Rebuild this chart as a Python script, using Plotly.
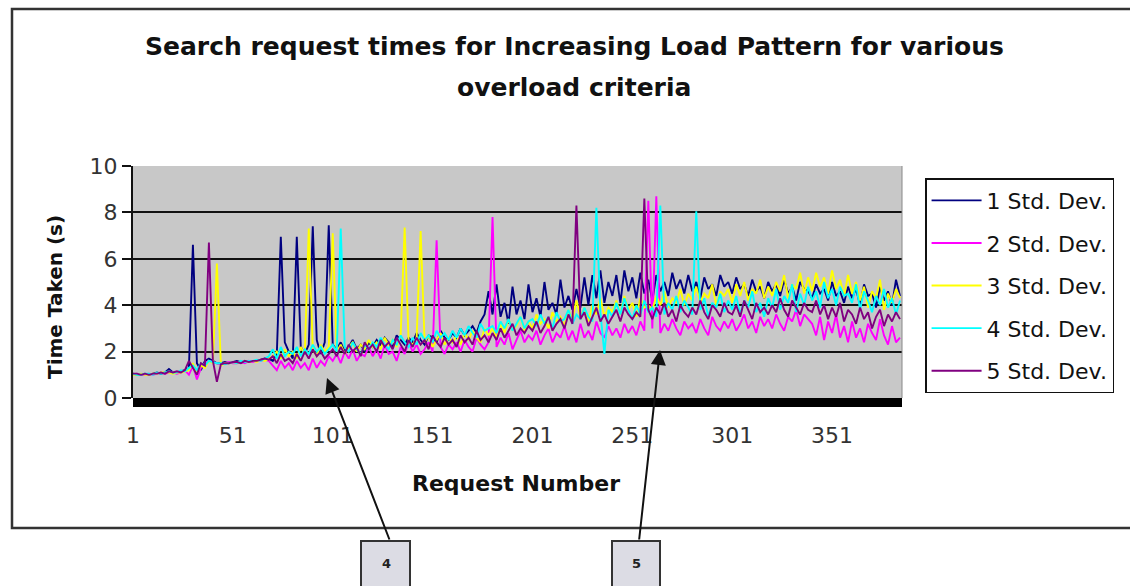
import plotly.graph_objects as go

# Request numbers (every second request is plotted)
requests = list(range(1, 386, 2))

series_names = ["1 Std. Dev.", "2 Std. Dev.", "3 Std. Dev.", "4 Std. Dev.", "5 Std. Dev."]
series_colors = ["#000080", "#FF00FF", "#FFFF00", "#00FFFF", "#800080"]

sd1 = [
    1.05, 1.0, 1.0, 1.05, 1.0, 1.05, 1.1, 1.05, 1.1, 1.25,
    1.1, 1.1, 1.15, 1.2, 1.3, 6.6, 1.5, 1.2, 1.6, 1.7,
    1.6, 1.5, 1.5, 1.55, 1.5, 1.55, 1.6, 1.55, 1.6, 1.55,
    1.6, 1.6, 1.65, 1.7, 1.7, 1.6, 1.9, 6.95, 2.4, 2.0,
    1.7, 6.95, 2.2, 1.9, 2.3, 7.4, 2.5, 1.9, 2.4, 7.45,
    2.3, 2.1, 2.4, 2.0, 2.2, 2.5, 2.1, 2.3, 2.0, 2.4,
    2.2, 2.5, 2.3, 2.6, 2.4, 2.2, 2.7, 2.5, 2.3, 2.6,
    2.4, 2.8, 2.5, 2.3, 2.7, 2.6, 2.4, 2.9, 2.6, 2.5,
    2.8, 2.6, 3.0, 2.7, 2.9, 3.1, 2.8, 3.3, 3.6, 4.6,
    3.6, 4.9, 3.5, 4.1, 3.2, 4.8, 3.6, 4.2, 3.4, 4.9,
    3.7, 4.3, 3.5, 5.0, 3.8, 4.1, 3.6, 5.1, 3.9, 4.4,
    3.8, 4.7, 3.9, 5.2, 4.0, 5.3, 4.3, 5.5, 4.1, 5.0,
    4.4, 5.3, 4.1, 5.5, 4.6, 5.2, 4.3, 5.4, 4.5, 5.1,
    4.2, 5.3, 4.6, 5.0, 4.4, 5.4, 4.7, 5.1, 4.5, 5.3,
    4.6, 5.0, 4.3, 5.2, 4.7, 4.9, 4.4, 5.3, 4.8, 5.0,
    4.5, 5.2, 4.7, 4.9, 4.4, 5.1, 4.6, 4.8, 4.3, 5.0,
    4.6, 4.9, 4.4, 5.1, 4.5, 4.8, 4.2, 5.0, 4.7, 4.6,
    4.3, 4.9, 4.5, 4.7, 4.2, 5.0, 4.4, 4.6, 4.1, 4.8,
    4.3, 4.7, 4.0, 4.9, 4.4, 4.5, 3.9, 4.8, 4.2, 4.6,
    4.0, 5.1, 4.4,
]

sd2 = [
    1.0, 1.05, 1.0, 1.0, 1.05, 1.0, 1.05, 1.1, 1.05, 1.1,
    1.1, 1.05, 1.1, 1.2, 1.0, 1.4, 0.8, 1.3, 1.5, 1.6,
    1.55, 1.5, 1.45, 1.5, 1.55, 1.5, 1.5, 1.55, 1.5, 1.6,
    1.55, 1.6, 1.6, 1.65, 1.6, 1.4, 1.2, 1.6, 1.3, 1.5,
    1.2, 1.6, 1.3, 1.5, 1.2, 1.7, 1.3, 1.6, 1.4, 1.8,
    1.6, 1.9, 1.5, 2.0, 1.7, 2.1, 1.6, 1.9, 1.8, 2.2,
    1.8, 2.1, 1.7, 2.3, 1.9, 2.0, 1.6, 2.2, 1.9, 2.4,
    2.0, 2.3, 1.9, 2.1, 2.4, 2.0, 6.8, 2.2, 1.9, 2.3,
    2.1, 2.4, 2.0, 2.5, 2.2, 2.0, 2.6, 2.3, 2.1, 2.4,
    7.8, 2.2, 2.6, 2.3, 2.8, 2.1, 2.5, 2.9, 2.4, 2.7,
    2.5, 2.9, 2.3, 2.7, 3.0, 2.4, 2.8, 2.6, 3.1, 2.5,
    2.9, 2.4, 3.2, 2.6, 2.9, 2.5, 3.3, 2.8, 2.6, 3.1,
    2.7, 3.0, 2.6, 3.2, 2.8, 3.1, 2.7, 3.3, 2.9, 8.5,
    3.0, 8.7, 2.8, 3.2, 2.9, 3.4, 3.0, 2.7, 3.3, 3.0,
    3.2, 2.8, 3.4, 3.0, 2.7, 3.5, 3.1, 2.9, 3.3, 3.0,
    3.4, 2.9, 3.2, 3.6, 3.0, 3.3, 2.8, 3.5, 3.1, 3.4,
    3.0, 3.6, 3.2, 2.9, 3.5, 3.3, 3.8, 3.1, 3.6, 3.4,
    3.2, 2.7, 3.5, 2.5, 3.3, 2.8, 3.6, 2.6, 3.1, 2.4,
    3.3, 2.6, 3.0, 2.4, 3.2, 2.8, 2.5, 3.4, 2.7, 2.3,
    3.1, 2.4, 2.6,
]

sd3 = [
    1.0, 1.0, 1.05, 1.0, 1.0, 1.05, 1.05, 1.1, 1.1, 1.1,
    1.05, 1.1, 1.1, 1.15, 1.2, 1.5, 1.1, 1.4, 1.3, 1.6,
    1.5, 5.8, 1.4, 1.5, 1.5, 1.55, 1.5, 1.55, 1.6, 1.55,
    1.6, 1.55, 1.65, 1.6, 1.7, 1.8, 2.0, 1.7, 2.1, 1.8,
    2.0, 1.7, 2.2, 1.9, 7.3, 2.1, 1.8, 2.3, 2.0, 2.2,
    7.1, 2.0, 2.3, 1.9, 2.2, 2.4, 2.0, 2.3, 2.1, 2.5,
    2.2, 2.4, 2.1, 2.6, 2.3, 2.5, 2.2, 2.7, 7.35, 2.4,
    2.3, 2.6, 7.2, 2.4, 2.7, 2.2, 2.5, 2.8, 2.3, 2.6,
    2.4, 2.7, 2.3, 2.8, 2.5, 2.9, 2.6, 2.4, 3.0, 2.7,
    3.0, 2.6, 3.2, 2.8, 3.4, 2.9, 3.1, 3.5, 2.9, 3.3,
    3.0, 3.6, 3.2, 3.4, 3.0, 3.7, 3.3, 3.5, 3.1, 3.8,
    3.4, 4.2, 3.5, 3.9, 3.3, 4.0, 3.6, 4.3, 3.5, 3.9,
    3.7, 4.2, 3.6, 4.4, 3.8, 4.1, 3.5, 4.3, 3.9, 4.0,
    3.8, 4.4, 4.0, 4.6, 3.9, 4.3, 4.1, 4.7, 4.0, 4.5,
    4.2, 4.8, 4.1, 4.5, 4.3, 4.9, 4.0, 4.6, 4.4, 4.7,
    4.1, 4.9, 4.4, 5.0, 4.2, 4.7, 4.5, 5.1, 4.3, 4.8,
    4.4, 5.0, 4.6, 5.3, 4.3, 4.9, 4.7, 5.4, 4.5, 5.2,
    4.6, 5.4, 4.8, 5.2, 4.5, 5.5, 4.7, 5.1, 4.4, 5.3,
    4.5, 5.0, 4.2, 4.8, 3.9, 4.6, 4.3, 5.1, 3.8, 4.5,
    4.1, 4.7, 4.3,
]

sd4 = [
    1.05, 1.0, 1.0, 1.05, 1.05, 1.0, 1.1, 1.05, 1.1, 1.15,
    1.1, 1.1, 1.2, 1.15, 1.3, 1.4, 1.2, 1.5, 1.4, 1.6,
    1.55, 1.5, 1.5, 1.45, 1.5, 1.55, 1.5, 1.6, 1.55, 1.6,
    1.6, 1.65, 1.6, 1.7, 1.8, 2.1, 1.7, 2.2, 1.8, 2.0,
    1.9, 2.2, 1.8, 2.1, 1.9, 2.3, 2.0, 2.2, 1.9, 2.1,
    2.3, 2.0, 7.3, 2.2, 2.0, 2.4, 2.1, 1.9, 2.3, 2.1,
    2.4, 2.2, 2.6, 2.3, 2.1, 2.5, 2.3, 2.7, 2.4, 2.2,
    2.6, 2.3, 2.8, 2.5, 2.7, 2.4, 2.9, 2.6, 2.8, 2.5,
    2.9, 2.6, 3.0, 2.7, 3.1, 2.8, 2.6, 3.2, 2.9, 3.0,
    3.1, 2.8, 3.3, 3.0, 3.4, 2.9, 3.2, 3.5, 3.0, 3.3,
    3.4, 3.1, 3.6, 3.2, 3.5, 3.0, 3.7, 3.3, 3.4, 3.8,
    3.2, 3.6, 3.4, 3.9, 3.5, 3.3, 8.2, 3.7, 1.9, 3.8,
    3.5, 4.1, 3.6, 4.3, 3.8, 3.4, 4.0, 3.6, 4.2, 3.7,
    3.9, 3.5, 8.3, 3.6, 4.1, 3.8, 4.4, 3.7, 4.2, 3.9,
    3.6, 8.05, 3.8, 4.3, 3.5, 4.1, 3.9, 4.5, 3.7, 4.2,
    3.8, 4.4, 3.6, 4.2, 3.9, 4.6, 3.7, 4.1, 3.5, 4.3,
    3.9, 4.7, 3.8, 4.4, 4.1, 4.9, 3.7, 4.5, 4.0, 4.8,
    4.2, 4.6, 3.9, 5.0, 4.3, 4.7, 4.0, 4.8, 4.4, 4.5,
    4.1, 4.9, 3.8, 4.6, 4.2, 3.7, 4.4, 4.0, 4.7, 3.9,
    4.3, 3.6, 4.2,
]

sd5 = [
    1.05, 1.05, 1.0, 1.05, 1.0, 1.05, 1.05, 1.1, 1.05, 1.15,
    1.1, 1.15, 1.1, 1.2, 1.6, 1.3, 1.0, 1.5, 1.4, 6.7,
    1.6, 0.7, 1.45, 1.5, 1.5, 1.55, 1.55, 1.5, 1.6, 1.55,
    1.6, 1.6, 1.65, 1.7, 1.65, 1.8, 1.5, 1.9, 1.6, 1.7,
    1.5, 1.9, 1.6, 2.0, 1.7, 2.1, 1.8, 2.0, 1.7, 1.9,
    2.1, 1.8, 2.2, 1.9, 2.3, 2.0, 2.2, 1.8, 2.4, 2.1,
    2.3, 2.0, 2.5, 2.2, 2.4, 2.1, 2.6, 2.3, 2.0, 2.5,
    2.2, 2.6, 2.3, 2.5, 2.1, 2.7, 2.4, 2.2, 2.6, 2.3,
    2.5, 2.2, 2.7, 2.4, 2.6, 2.3, 2.9, 2.5, 2.7, 2.4,
    2.8, 2.5, 3.0, 2.6, 2.9, 3.2, 2.7, 3.0, 2.8, 3.1,
    2.9, 3.3, 2.8, 3.1, 3.5, 2.9, 3.2, 3.4, 3.0, 3.6,
    3.2, 8.3, 3.4, 3.7, 3.1, 3.5, 3.9, 3.3, 3.6, 3.2,
    3.5, 3.8, 3.3, 3.9, 3.6, 3.4, 3.7, 3.5, 8.6, 3.8,
    3.4, 3.9, 3.6, 4.1, 3.5, 3.8, 3.3, 4.0, 3.7, 3.5,
    3.9, 3.6, 4.2, 3.7, 3.4, 4.0, 3.8, 3.5, 4.1, 3.7,
    3.6, 4.0, 3.5, 4.2, 3.8, 3.4, 4.1, 3.7, 3.9, 3.6,
    4.0, 3.7, 4.3, 3.8, 3.5, 4.2, 3.9, 3.6, 4.1, 3.8,
    3.7, 4.2, 3.6, 4.0, 3.4, 3.9, 3.5, 4.1, 3.3, 3.8,
    3.6, 3.2, 3.9, 3.4, 3.7, 3.0, 3.5, 3.8, 3.1, 3.6,
    3.3, 3.7, 3.4,
]

all_series = [sd1, sd2, sd3, sd4, sd5]
for s in all_series:
    assert len(s) == len(requests), len(s)

x_tick_vals = [1, 51, 101, 151, 201, 251, 301, 351]
y_tick_vals = [0, 2, 4, 6, 8, 10]

FONT = "DejaVu Sans"

fig = go.Figure()
for name, color, vals in zip(series_names, series_colors, all_series):
    fig.add_trace(go.Scatter(
        x=requests, y=vals, mode="lines", name=name,
        line=dict(color=color, width=1.9),
        legendgroup=name,
    ))

fig.update_layout(
    width=1130, height=586,
    margin=dict(l=133, r=228, t=166, b=188),
    paper_bgcolor="white",
    plot_bgcolor="#c8c8c8",
    font=dict(family=FONT, color="#222"),
    showlegend=True,
    legend=dict(
        x=1.03, y=0.948, xanchor="left", yanchor="top",
        bgcolor="white", bordercolor="#111", borderwidth=1.5,
        font=dict(family=FONT, size=22, color="#111"),
        tracegroupgap=11, itemwidth=50,
    ),
)

fig.update_xaxes(
    range=[1, 386], tickvals=x_tick_vals, ticktext=[str(v) for v in x_tick_vals],
    showgrid=False, zeroline=False, ticks="", showline=False,
    tickfont=dict(family=FONT, size=22, color="#333"),
    ticklabelstandoff=22,
)
fig.update_yaxes(
    range=[0, 10], tickvals=y_tick_vals,
    showgrid=True, gridcolor="#111", gridwidth=2, zeroline=False,
    ticks="outside", ticklen=9, tickwidth=2, tickcolor="#111",
    showline=True, linecolor="#111", linewidth=2,
    tickfont=dict(family=FONT, size=22, color="#333"),
)

def px_x(p):
    return (p - 133) / 769

def px_y(p):
    return (398 - p) / 232

shapes = [
    # thick black floor band under the axis
    dict(type="rect", xref="paper", yref="paper", x0=0, x1=1, y0=px_y(407), y1=0,
         fillcolor="black", line=dict(width=0)),
    # plot area right border
    dict(type="line", xref="paper", yref="paper", x0=1, x1=1, y0=0, y1=1,
         line=dict(color="#888", width=1)),
    # outer chart border
    dict(type="rect", xref="paper", yref="paper", x0=px_x(12), x1=px_x(1140),
         y0=px_y(528), y1=px_y(9), line=dict(color="#333", width=2.5), layer="below"),
    # callout boxes
    dict(type="rect", xref="paper", yref="paper", x0=px_x(361), x1=px_x(410),
         y0=px_y(600), y1=px_y(541), fillcolor="#dcdce4", line=dict(color="#333", width=2)),
    dict(type="rect", xref="paper", yref="paper", x0=px_x(612), x1=px_x(660),
         y0=px_y(600), y1=px_y(541), fillcolor="#dcdce4", line=dict(color="#333", width=2)),
]
fig.update_layout(shapes=shapes)

annotations = [
    dict(text="<b>Search request times for Increasing Load Pattern for various</b>",
         xref="paper", yref="paper", x=px_x(574), y=px_y(47), showarrow=False,
         font=dict(family=FONT, size=25, color="#111"), xanchor="center", yanchor="middle"),
    dict(text="<b>overload criteria</b>",
         xref="paper", yref="paper", x=px_x(574), y=px_y(87), showarrow=False,
         font=dict(family=FONT, size=25, color="#111"), xanchor="center", yanchor="middle"),
    dict(text="<b>Time Taken (s)</b>", textangle=-90,
         xref="paper", yref="paper", x=px_x(55), y=px_y(297), showarrow=False,
         font=dict(family=FONT, size=20, color="#111"), xanchor="center", yanchor="middle"),
    dict(text="<b>Request Number</b>",
         xref="paper", yref="paper", x=px_x(516), y=px_y(483), showarrow=False,
         font=dict(family=FONT, size=22, color="#111"), xanchor="center", yanchor="middle"),
    dict(text="<b>4</b>", xref="paper", yref="paper", x=px_x(386), y=px_y(563),
         showarrow=False, font=dict(family=FONT, size=13, color="#222"),
         xanchor="center", yanchor="middle"),
    dict(text="<b>5</b>", xref="paper", yref="paper", x=px_x(636), y=px_y(563),
         showarrow=False, font=dict(family=FONT, size=13, color="#222"),
         xanchor="center", yanchor="middle"),
    # arrows
    dict(text="", xref="paper", yref="paper", x=px_x(327), y=px_y(378),
         ax=390 - 327, ay=541 - 378, showarrow=True, arrowhead=2, arrowsize=1.5,
         arrowwidth=2, arrowcolor="#111", standoff=0, startstandoff=0),
    dict(text="", xref="paper", yref="paper", x=px_x(660), y=px_y(350),
         ax=639 - 660, ay=541 - 350, showarrow=True, arrowhead=2, arrowsize=1.5,
         arrowwidth=2, arrowcolor="#111", standoff=0, startstandoff=0),
]
fig.update_layout(annotations=annotations)

fig.write_html("out.html")
